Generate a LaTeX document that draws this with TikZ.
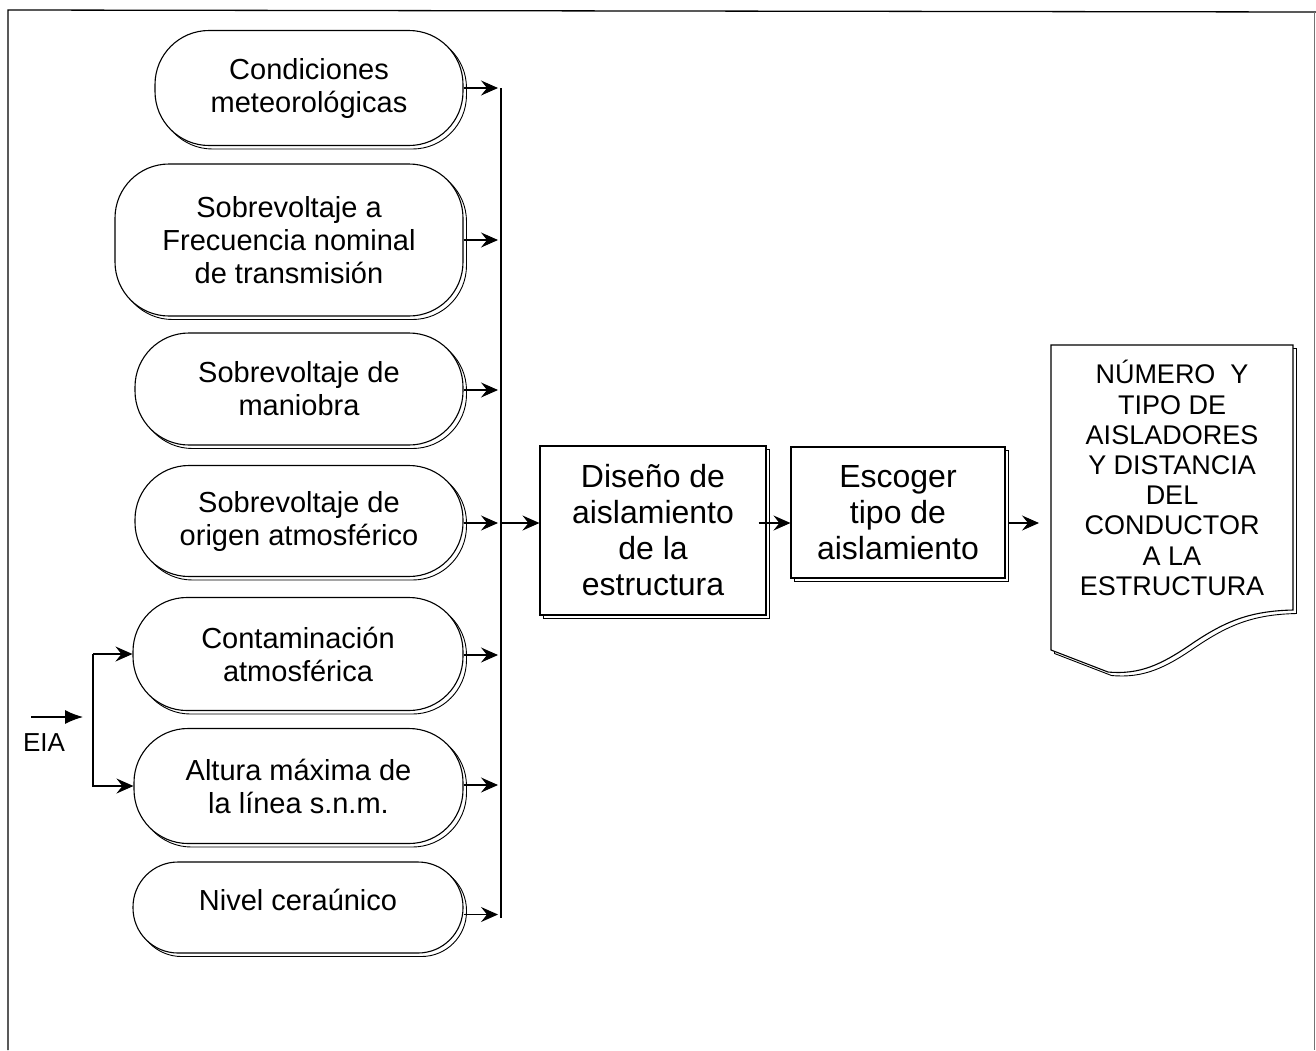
\documentclass[tikz,border=0pt]{standalone}
\usepackage{fontspec}
\setmainfont{Liberation Sans}
\usetikzlibrary{arrows.meta,shadows,calc}

\begin{document}
\begin{tikzpicture}[x=1pt,y=-1pt,line width=1.1pt,
  shadowed/.style={copy shadow={shadow xshift=3.5pt,shadow yshift=-3.5pt,draw=black,fill=white,line width=0.9pt}},
  term/.style={draw,fill=white,shadowed,rounded corners=54pt,align=center,inner sep=0pt,
    font=\fontsize{29}{33}\selectfont},
  procbox/.style={draw,fill=white,shadowed,align=center,inner sep=0pt,
    font=\fontsize{32}{36}\selectfont},
  arr/.style={-{Stealth[length=17pt,width=15pt,inset=6pt]}},
  inarr/.style={-{Latex[length=18pt,width=14pt]}}]

\useasboundingbox (0,0) rectangle (1316,1050);

% page frame
\draw[line width=1.3pt] (8,1050) -- (8,10) -- (1316,12);
\draw[black!55,line width=0.8pt] (1314,12) -- (1314,1050);

% input conditions
\node[term,minimum width=308pt,minimum height=115pt] (t1) at (309,88) {Condiciones\\meteorológicas};
\node[term,minimum width=348pt,minimum height=152pt] (t2) at (289,240) {Sobrevoltaje a\\Frecuencia nominal\\de transmisión};
\node[term,minimum width=328pt,minimum height=112pt] (t3) at (299,389) {Sobrevoltaje de\\maniobra};
\node[term,minimum width=328pt,minimum height=111pt] (t4) at (299,521) {Sobrevoltaje de\\origen atmosférico};
\node[term,minimum width=330pt,minimum height=113pt] (t5) at (298,654) {Contaminación\\atmosférica};
\node[term,minimum width=329pt,minimum height=115pt] (t6) at (298.5,786) {Altura máxima de\\la línea s.n.m.};
\node[term,rounded corners=45pt,minimum width=330pt,minimum height=91pt] (t7) at (298,907.5) {\raisebox{15pt}{Nivel ceraúnico}};

% process steps
\node[procbox,minimum width=226pt,minimum height=169pt] (dis) at (653,530.5) {Diseño de\\aislamiento\\de la\\estructura};
\node[procbox,minimum width=214pt,minimum height=131pt] (esc) at (898,512.5) {Escoger\\tipo de\\aislamiento};

% output document
\begin{scope}[line width=0.9pt]
  \draw[fill=white,shift={(3.5,3.5)}] (1051,650) -- (1108,672)
    .. controls (1140,675) and (1162,664) .. (1190,645)
    .. controls (1225,621) and (1250,611) .. (1293,610) -- (1293,345) -- (1051,345) -- cycle;
\end{scope}
\draw[fill=white] (1051,650) -- (1108,672)
    .. controls (1140,675) and (1162,664) .. (1190,645)
    .. controls (1225,621) and (1250,611) .. (1293,610) -- (1293,345) -- (1051,345) -- cycle;
\node[align=center,inner sep=0pt,font=\fontsize{27}{30.2}\selectfont] (doc) at (1172,478)
  {NÚMERO\ \ Y\\TIPO DE\\AISLADORES\\Y DISTANCIA\\DEL\\CONDUCTOR\\A LA\\ESTRUCTURA};
\coordinate (docin) at (1039,523);

% collecting bus
\coordinate (bt) at (501,88);
\coordinate (bb) at (501,918);
\draw (bt) -- (bb);
\foreach \n/\dy in {t1/0,t2/0,t3/1,t4/2,t5/1,t6/-1,t7/7}{
  \draw[arr] ($(\n.east)+(0,\dy)$) -- ($(\n.east -| bt)+(-3,\dy)$);
}

% main flow
\coordinate (bm) at (501,523);
\draw[arr] (bm) -- (bm -| dis.west);
\draw[arr] ($(dis.east)+(-8,-7.5)$) -- ($(esc.west)+(0,10.5)$);
\draw[arr] ($(esc.east)+(3,10.5)$) -- (docin);

% EIA input
\coordinate (ea) at (31,717);
\coordinate (eb) at (83,717);
\draw[inarr] (ea) -- (eb);
\node[font=\fontsize{26}{30}\selectfont,inner sep=0pt] (eia) at (44,743) {EIA};
\coordinate (sp) at (93,654);
\draw[arr] (t5.west -| sp) -- (t5.west) ;
\draw[arr] (t5.west -| sp) |- (t6.west);
\end{tikzpicture}
\end{document}
